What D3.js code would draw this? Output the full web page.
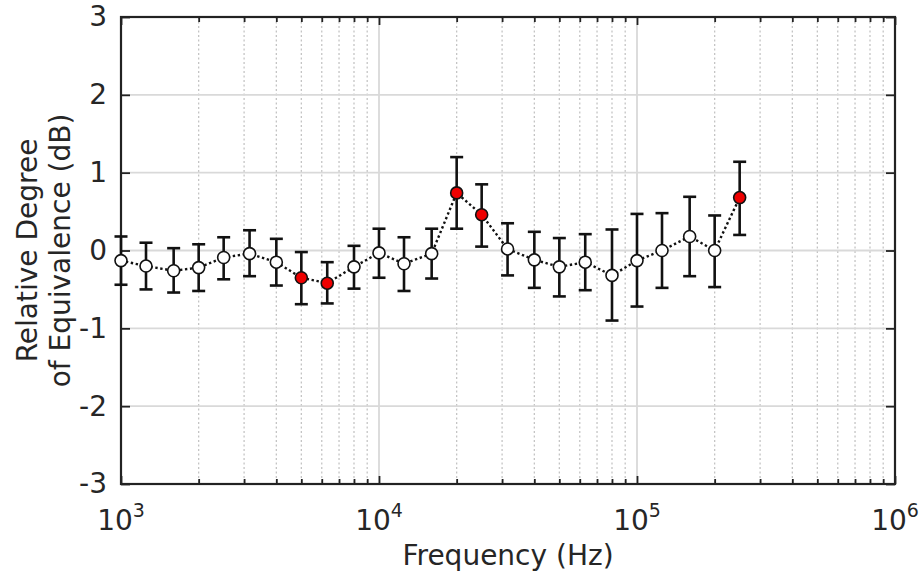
<!DOCTYPE html>
<html>
<head>
<meta charset="utf-8">
<script src="https://cdn.jsdelivr.net/npm/d3@7"></script>
<style>
  body { margin: 0; background: #fff; }
  text { font-family: "DejaVu Sans", sans-serif; fill: #262626; }
</style>
</head>
<body>
<div id="chart"></div>
<script>
// one-third octave frequencies (Hz)
const frequencies = [1000, 1250, 1600, 2000, 2500, 3150, 4000, 5000, 6300, 8000,
  10000, 12500, 16000, 20000, 25000, 31500, 40000, 50000, 63000, 80000,
  100000, 125000, 160000, 200000, 250000];
const degreeValues = [-0.13, -0.20, -0.26, -0.22, -0.09, -0.04, -0.15, -0.35, -0.42, -0.21,
  -0.03, -0.17, -0.04, 0.74, 0.46, 0.02, -0.12, -0.21, -0.15, -0.32,
  -0.13, 0.00, 0.18, 0.00, 0.68];
const upperValues = [0.18, 0.10, 0.03, 0.08, 0.17, 0.26, 0.15, -0.02, -0.15, 0.06,
  0.28, 0.17, 0.28, 1.20, 0.85, 0.35, 0.24, 0.16, 0.21, 0.27,
  0.47, 0.48, 0.69, 0.45, 1.14];
const lowerValues = [-0.44, -0.50, -0.54, -0.52, -0.37, -0.33, -0.45, -0.69, -0.68, -0.49,
  -0.35, -0.52, -0.36, 0.28, 0.05, -0.32, -0.48, -0.59, -0.51, -0.90,
  -0.72, -0.48, -0.33, -0.47, 0.20];
// points drawn with red fill
const flagged = [false, false, false, false, false, false, false, true, true, false,
  false, false, false, true, true, false, false, false, false, false,
  false, false, false, false, true];
const xTickExponents = [3, 4, 5, 6];
const yTicks = [-3, -2, -1, 0, 1, 2, 3];

const width = 924, height = 577;
const margin = {top: 17, right: 29, bottom: 93, left: 121};
const innerW = width - margin.left - margin.right;
const innerH = height - margin.top - margin.bottom;

const svg = d3.select("#chart").append("svg")
  .attr("width", width)
  .attr("height", height);

const g = svg.append("g")
  .attr("transform", `translate(${margin.left},${margin.top})`);

const x = d3.scaleLog().domain([1e3, 1e6]).range([0, innerW]);
const y = d3.scaleLinear().domain([-3, 3]).range([innerH, 0]);

// minor ticks 2..9 in each decade
const minorTicks = [];
for (let e = 3; e < 6; e++) {
  for (let m = 2; m <= 9; m++) minorTicks.push(m * Math.pow(10, e));
}
const majorTicks = xTickExponents.map(e => Math.pow(10, e));

// grid
g.selectAll(".minor-grid").data(minorTicks).enter().append("line")
  .attr("x1", d => x(d)).attr("x2", d => x(d))
  .attr("y1", 0).attr("y2", innerH)
  .style("stroke", "#c4c4c4")
  .style("stroke-width", 1.3)
  .style("stroke-dasharray", "2,2.5");

g.selectAll(".major-grid-x").data(majorTicks).enter().append("line")
  .attr("x1", d => x(d)).attr("x2", d => x(d))
  .attr("y1", 0).attr("y2", innerH)
  .style("stroke", "#d9d9d9")
  .style("stroke-width", 1.8);

g.selectAll(".major-grid-y").data(yTicks).enter().append("line")
  .attr("x1", 0).attr("x2", innerW)
  .attr("y1", d => y(d)).attr("y2", d => y(d))
  .style("stroke", "#d9d9d9")
  .style("stroke-width", 1.8);

// axes with inward ticks
const axisStyle = sel => {
  sel.select(".domain").remove();
  sel.selectAll("line").style("stroke", "#222").style("stroke-width", 1.8);
};

const bottomAxis = g.append("g").attr("transform", `translate(0,${innerH})`)
  .call(d3.axisBottom(x).tickValues(majorTicks.concat(minorTicks))
    .tickSizeInner(-8).tickSizeOuter(0).tickFormat(""));
bottomAxis.call(axisStyle);
bottomAxis.selectAll(".tick line").filter(d => minorTicks.includes(d)).attr("y2", -5);

const topAxis = g.append("g")
  .call(d3.axisTop(x).tickValues(majorTicks.concat(minorTicks))
    .tickSizeInner(-8).tickSizeOuter(0).tickFormat(""));
topAxis.call(axisStyle);
topAxis.selectAll(".tick line").filter(d => minorTicks.includes(d)).attr("y2", 5);

const leftAxis = g.append("g")
  .call(d3.axisLeft(y).tickValues(yTicks).tickSizeInner(-9).tickSizeOuter(0)
    .tickPadding(14).tickFormat(d => String(d)));
leftAxis.call(axisStyle);
leftAxis.selectAll("text")
  .style("font-size", "28px")
  .style("font-family", "'DejaVu Sans', sans-serif")
  .style("fill", "#262626");

const rightAxis = g.append("g").attr("transform", `translate(${innerW},0)`)
  .call(d3.axisRight(y).tickValues(yTicks).tickSizeInner(-9).tickSizeOuter(0).tickFormat(""));
rightAxis.call(axisStyle);

// frame
g.append("rect")
  .attr("width", innerW).attr("height", innerH)
  .style("fill", "none")
  .style("stroke", "#222")
  .style("stroke-width", 2.2);

// x tick labels 10^n
const xLabels = g.selectAll(".xlab").data(xTickExponents).enter().append("text")
  .attr("x", d => x(Math.pow(10, d)))
  .attr("y", innerH + 46)
  .attr("text-anchor", "middle")
  .style("font-size", "28px");
xLabels.append("tspan").text("10");
xLabels.append("tspan")
  .attr("dy", -13)
  .style("font-size", "19px")
  .text(d => d);

// axis titles
svg.append("text")
  .attr("x", margin.left + innerW / 2)
  .attr("y", 565)
  .attr("text-anchor", "middle")
  .style("font-size", "28px")
  .text("Frequency (Hz)");

const yTitle = svg.append("text")
  .attr("transform", `translate(0,${margin.top + innerH / 2}) rotate(-90)`)
  .attr("text-anchor", "middle")
  .style("font-size", "28px");
yTitle.append("tspan").attr("x", 0).attr("y", 37).text("Relative Degree");
yTitle.append("tspan").attr("x", 0).attr("y", 70).text("of Equivalence (dB)");

// data
const data = frequencies.map((f, i) => ({
  f, v: degreeValues[i], lo: lowerValues[i], hi: upperValues[i], red: flagged[i]
}));

const line = d3.line().x(d => x(d.f)).y(d => y(d.v));
g.append("path")
  .datum(data)
  .attr("d", line)
  .style("fill", "none")
  .style("stroke", "#111")
  .style("stroke-width", 2.4)
  .style("stroke-dasharray", "2.4,2.6");

const capW = 6.5;
const bars = g.selectAll(".errbar").data(data).enter().append("g");
bars.append("line")
  .attr("x1", d => x(d.f)).attr("x2", d => x(d.f))
  .attr("y1", d => y(d.hi)).attr("y2", d => y(d.lo));
bars.append("line")
  .attr("x1", d => x(d.f) - capW).attr("x2", d => x(d.f) + capW)
  .attr("y1", d => y(d.hi)).attr("y2", d => y(d.hi));
bars.append("line")
  .attr("x1", d => x(d.f) - capW).attr("x2", d => x(d.f) + capW)
  .attr("y1", d => y(d.lo)).attr("y2", d => y(d.lo));
bars.selectAll("line")
  .style("stroke", "#111")
  .style("stroke-width", 2.6);

g.selectAll(".pt").data(data).enter().append("circle")
  .attr("cx", d => x(d.f))
  .attr("cy", d => y(d.v))
  .attr("r", 6)
  .style("fill", d => d.red ? "#ee0000" : "#fff")
  .style("stroke", "#111")
  .style("stroke-width", 1.6);
</script>
</body>
</html>
